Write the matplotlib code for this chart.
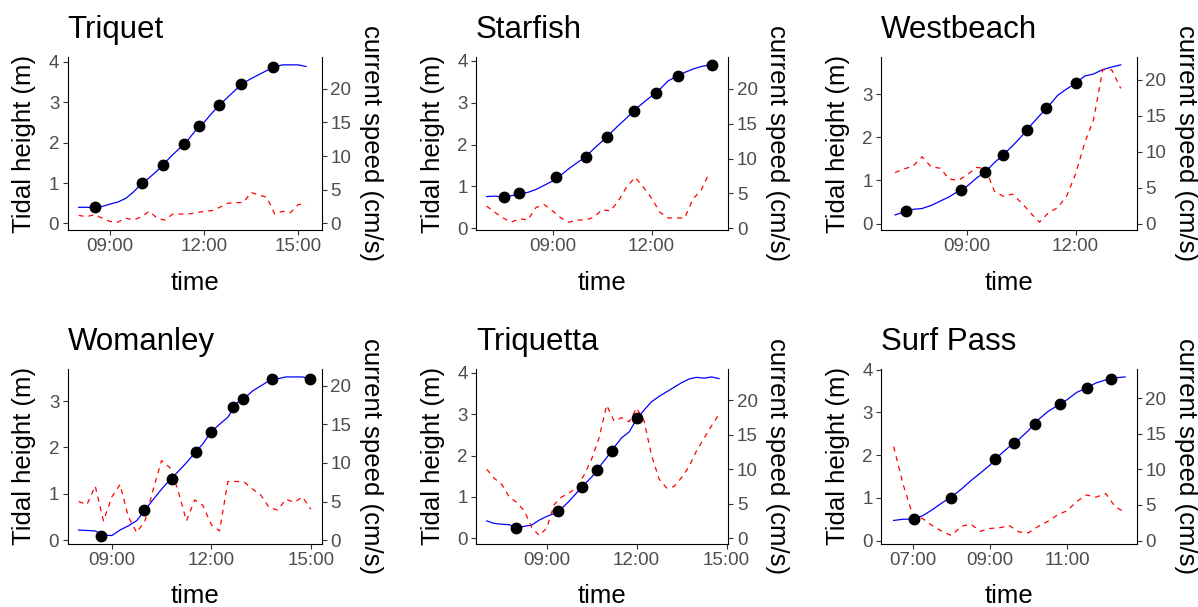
import matplotlib
matplotlib.use('Agg')
import matplotlib.pyplot as plt
from matplotlib.ticker import MultipleLocator, FixedLocator, FuncFormatter

plt.rcParams['font.family'] = ['Liberation Sans', 'DejaVu Sans']

SITES = ['Triquet', 'Starfish', 'Westbeach', 'Womanley', 'Triquetta', 'Surf Pass']

# logger records every 15 min from the start time below
LOG_START = ['08:00', '07:00', '07:00', '08:00', '07:00', '06:30']
LOG_STEP_MIN = 15

# predicted tidal height (m)
TRIQUET_HEIGHT = [0.40, 0.40, 0.39, 0.42, 0.48, 0.53, 0.62, 0.78, 0.98, 1.13,
                  1.30, 1.50, 1.70, 1.88, 2.08, 2.32, 2.50, 2.73, 2.93, 3.12,
                  3.30, 3.47, 3.58, 3.68, 3.78, 3.87, 3.92, 3.92, 3.92, 3.88]
STARFISH_HEIGHT = [0.76, 0.77, 0.75, 0.78, 0.82, 0.86, 0.93, 1.03, 1.13, 1.27,
                   1.43, 1.57, 1.71, 1.90, 2.08, 2.27, 2.46, 2.64, 2.84, 3.00,
                   3.16, 3.32, 3.52, 3.62, 3.72, 3.80, 3.86, 3.90]
WESTBEACH_HEIGHT = [0.20, 0.27, 0.33, 0.35, 0.42, 0.52, 0.62, 0.75, 0.87, 1.05,
                    1.20, 1.41, 1.60, 1.80, 2.02, 2.27, 2.50, 2.72, 2.97, 3.12,
                    3.25, 3.42, 3.47, 3.57, 3.63, 3.68]
WOMANLEY_HEIGHT = [0.22, 0.21, 0.20, 0.11, 0.10, 0.22, 0.31, 0.42, 0.65, 0.88,
                   1.10, 1.30, 1.48, 1.67, 1.88, 2.08, 2.34, 2.50, 2.65, 2.95,
                   3.06, 3.22, 3.33, 3.44, 3.48, 3.52, 3.52, 3.52, 3.48]
TRIQUETTA_HEIGHT = [0.42, 0.36, 0.34, 0.33, 0.25, 0.29, 0.32, 0.44, 0.53, 0.60,
                    0.72, 0.90, 1.10, 1.30, 1.48, 1.72, 1.95, 2.20, 2.43, 2.57,
                    2.88, 3.10, 3.30, 3.43, 3.54, 3.65, 3.76, 3.85, 3.89, 3.87,
                    3.90, 3.86]
SURFPASS_HEIGHT = [0.47, 0.50, 0.50, 0.58, 0.72, 0.88, 1.02, 1.20, 1.40, 1.58,
                   1.77, 2.00, 2.20, 2.37, 2.58, 2.83, 3.02, 3.16, 3.30, 3.47,
                   3.57, 3.69, 3.76, 3.81, 3.83]

# measured current speed (cm/s)
TRIQUET_SPEED = [1.2, 1.0, 1.3, 0.8, 0.3, 0.2, 0.8, 0.5, 1.0, 1.8,
                 0.8, 0.5, 1.4, 1.4, 1.4, 1.6, 1.8, 1.9, 2.4, 3.0,
                 3.1, 3.1, 4.6, 4.2, 3.9, 1.4, 1.8, 1.6, 2.8, 3.0]
STARFISH_SPEED = [3.2, 2.3, 1.5, 0.9, 1.4, 1.2, 3.0, 3.4, 2.5, 1.5,
                  0.9, 1.2, 1.2, 1.6, 2.7, 2.5, 4.0, 6.0, 7.3, 5.9,
                  4.3, 2.3, 1.5, 1.5, 1.5, 4.2, 5.5, 8.0]
WESTBEACH_SPEED = [7.1, 7.6, 8.0, 9.3, 7.9, 7.7, 6.2, 6.0, 6.8, 7.8,
                   7.7, 4.5, 3.8, 4.1, 2.9, 1.5, 0.2, 1.5, 2.2, 3.8,
                   6.9, 11.2, 14.5, 21.4, 21.4, 18.8]
WOMANLEY_SPEED = [5.0, 4.6, 7.0, 2.5, 5.6, 7.2, 3.0, 1.0, 2.5, 6.6,
                  10.3, 9.4, 6.4, 2.5, 5.2, 4.5, 2.0, 1.2, 7.6, 7.6,
                  7.5, 6.6, 5.8, 4.2, 3.9, 5.3, 4.9, 5.6, 4.0]
TRIQUETTA_SPEED = [10.0, 8.7, 7.8, 6.0, 5.2, 4.0, 1.6, 0.4, 1.5, 4.9,
                   6.0, 6.6, 7.3, 9.2, 11.5, 14.6, 19.3, 17.0, 17.5, 16.9,
                   18.9, 17.0, 12.0, 8.6, 7.3, 7.5, 8.8, 10.4, 12.7, 14.5,
                   16.3, 18.0]
SURFPASS_SPEED = [13.2, 7.8, 3.5, 3.1, 2.1, 1.3, 0.7, 2.0, 2.3, 1.3,
                  1.7, 1.8, 2.1, 1.2, 1.1, 2.0, 2.7, 3.6, 4.2, 5.5,
                  6.4, 6.1, 6.6, 4.7, 4.0]

# sampling visits: time and observed water level (m)
TRIQUET_VISIT_T = ['08:32', '10:01', '10:41', '11:22', '11:50', '12:29', '13:11', '14:12']
TRIQUET_VISIT_H = [0.41, 0.99, 1.44, 1.97, 2.40, 2.93, 3.44, 3.87]
STARFISH_VISIT_T = ['07:31', '07:59', '09:07', '10:01', '10:38', '11:28', '12:08', '12:48', '13:49']
STARFISH_VISIT_H = [0.74, 0.84, 1.23, 1.71, 2.19, 2.81, 3.24, 3.64, 3.90]
WESTBEACH_VISIT_T = ['07:19', '08:49', '09:29', '09:59', '10:40', '11:10', '12:00']
WESTBEACH_VISIT_H = [0.29, 0.78, 1.19, 1.60, 2.18, 2.67, 3.25]
WOMANLEY_VISIT_T = ['08:40', '09:59', '10:49', '11:32', '12:00', '12:40', '12:58', '13:50', '14:59']
WOMANLEY_VISIT_H = [0.10, 0.65, 1.31, 1.90, 2.34, 2.88, 3.05, 3.48, 3.48]
TRIQUETTA_VISIT_T = ['07:58', '09:22', '10:11', '10:40', '11:11', '12:01']
TRIQUETTA_VISIT_H = [0.24, 0.65, 1.24, 1.64, 2.11, 2.90]
SURFPASS_VISIT_T = ['07:01', '07:59', '09:07', '09:38', '10:10', '10:49', '11:31', '12:08']
SURFPASS_VISIT_H = [0.50, 1.00, 1.90, 2.29, 2.72, 3.19, 3.57, 3.78]

HEIGHTS = [TRIQUET_HEIGHT, STARFISH_HEIGHT, WESTBEACH_HEIGHT,
           WOMANLEY_HEIGHT, TRIQUETTA_HEIGHT, SURFPASS_HEIGHT]
SPEEDS = [TRIQUET_SPEED, STARFISH_SPEED, WESTBEACH_SPEED,
          WOMANLEY_SPEED, TRIQUETTA_SPEED, SURFPASS_SPEED]
VISIT_T = [TRIQUET_VISIT_T, STARFISH_VISIT_T, WESTBEACH_VISIT_T,
           WOMANLEY_VISIT_T, TRIQUETTA_VISIT_T, SURFPASS_VISIT_T]
VISIT_H = [TRIQUET_VISIT_H, STARFISH_VISIT_H, WESTBEACH_VISIT_H,
           WOMANLEY_VISIT_H, TRIQUETTA_VISIT_H, SURFPASS_VISIT_H]

# hour ticks per panel
X_TICKS = [[9, 12, 15], [9, 12], [9, 12], [9, 12, 15], [9, 12, 15], [7, 9, 11]]

# speed axis is drawn on the height scale: 6 cm/s per metre
SPEED_PER_M = 6.0

# panel boxes in pixels: left, right, top, bottom
W, H = 1198, 607
PANELS = [(67.7, 321.7, 57, 230), (476, 728.3, 57, 230), (881.3, 1137, 57, 230),
          (67.7, 321.7, 369, 543.5), (476, 728.3, 369, 543.5), (881.3, 1137, 369, 543.5)]
XLIMS = [(7.65, 15.75), (6.68, 14.32), (6.62, 13.70),
         (7.67, 15.33), (6.64, 15.06), (6.18, 12.81)]

TICK_GREY = '#4D4D4D'


def hours(s):
    h, m = s.split(':')
    return int(h) + int(m) / 60


fig = plt.figure(figsize=(W / 100, H / 100), dpi=100)

for i, site in enumerate(SITES):
    l, r, t, b = PANELS[i]
    ax = fig.add_axes([l / W, 1 - b / H, (r - l) / W, (b - t) / H])

    t0 = hours(LOG_START[i])
    tt = [t0 + k * LOG_STEP_MIN / 60 for k in range(len(HEIGHTS[i]))]
    ax.plot(tt, HEIGHTS[i], color='blue', lw=0.9)
    ax.plot(tt, [s / SPEED_PER_M for s in SPEEDS[i]], color='red', lw=0.9,
            ls=(0, (4, 4)))
    ax.plot([hours(v) for v in VISIT_T[i]], VISIT_H[i], 'o', color='black',
            ms=7.5, mec='black')

    ax.set_xlim(*XLIMS[i])
    ax.margins(y=0.05)
    ax.xaxis.set_major_locator(FixedLocator(X_TICKS[i]))
    ax.xaxis.set_major_formatter(FuncFormatter(lambda v, p: f'{int(round(v)):02d}:00'))
    ax.yaxis.set_major_locator(MultipleLocator(1))

    sec = ax.secondary_yaxis('right', functions=(lambda h: h * SPEED_PER_M,
                                                 lambda s: s / SPEED_PER_M))
    sec.yaxis.set_major_locator(MultipleLocator(5))

    for a in (ax, sec):
        a.tick_params(direction='out', length=3.6, width=0.8, color='#333333',
                      labelcolor=TICK_GREY, labelsize=13.5, pad=2.5)
    ax.spines['top'].set_visible(False)
    ax.spines['right'].set_visible(False)
    for sp in ('left', 'bottom'):
        ax.spines[sp].set_linewidth(0.8)
    sec.spines['right'].set_linewidth(0.8)

    ax.set_title(site, loc='left', fontsize=22.5, pad=14)
    ax.set_xlabel('time', fontsize=18.5, labelpad=11)
    ax.set_ylabel('Tidal height (m)', fontsize=18.5, labelpad=9)
    sec.set_ylabel('current speed (cm/s)', fontsize=18.5, rotation=270,
                   va='bottom', labelpad=5.5)

fig.savefig('out.png', dpi=100)
